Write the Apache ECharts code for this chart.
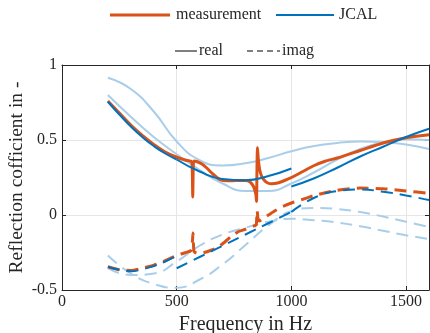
<!DOCTYPE html>
<html><head><meta charset="utf-8">
<script src="https://cdn.jsdelivr.net/npm/echarts@6/dist/echarts.min.js"></script>
<style>html,body{margin:0;padding:0;background:#fff}#c{width:430px;height:333px}</style>
</head><body><div id="c"></div>
<script>
// ---- data ----
const xTicks = [0, 500, 1000, 1500];
const yTicks = [-0.5, 0, 0.5, 1];

// measurement, real part
const measRealF = [200,250,300,350,400,450,500,540,565,568,570,572,575,590,610,630,660,690,720,760,800,820,835,845,848,850,852,856,862,870,880,895,915,940,970,1000,1050,1100,1150,1200,1300,1400,1500,1600];
const measRealV = [0.76,0.68,0.60,0.53,0.47,0.42,0.385,0.365,0.355,0.30,0.12,0.30,0.36,0.355,0.34,0.315,0.27,0.235,0.228,0.23,0.23,0.22,0.19,0.14,0.09,0.30,0.45,0.37,0.30,0.26,0.235,0.215,0.208,0.213,0.23,0.25,0.29,0.33,0.36,0.38,0.43,0.48,0.515,0.535];
// measurement, imaginary part
const measImagF = [200,250,300,350,400,450,500,540,560,566,569,571,573,576,590,620,650,680,710,740,770,800,830,843,847,849,851,854,860,870,885,900,930,960,1000,1050,1100,1200,1300,1400,1500,1600];
const measImagV = [-0.345,-0.365,-0.37,-0.355,-0.335,-0.305,-0.27,-0.25,-0.24,-0.22,-0.17,-0.12,-0.19,-0.245,-0.255,-0.25,-0.235,-0.215,-0.18,-0.14,-0.11,-0.095,-0.075,-0.07,-0.065,-0.02,0.03,-0.02,-0.04,-0.03,-0.015,0.0,0.03,0.055,0.08,0.105,0.13,0.165,0.18,0.175,0.16,0.145];

// JCAL fits (dark), piecewise frequency ranges
const jcalAF = [200,250,300,350,400,450,500];
const jcalARealV = [0.755,0.67,0.59,0.52,0.46,0.41,0.37];
const jcalAImagV = [-0.345,-0.365,-0.375,-0.362,-0.34,-0.31,-0.27];
const jcalBF = [500,600,700,800,900,1000];
const jcalBRealV = [0.37,0.29,0.24,0.232,0.26,0.31];
const jcalBImagV = [-0.355,-0.28,-0.205,-0.13,-0.055,0.02];
const jcalCF = [1000,1100,1200,1300,1400,1500,1600];
const jcalCRealV = [0.19,0.245,0.315,0.39,0.455,0.52,0.575];
const jcalCImagV = [0.02,0.115,0.16,0.17,0.155,0.13,0.10];

// JCAL variants over the full range (light)
const fullF = [200,300,400,500,600,700,800,900,1000,1100,1200,1300,1400,1500,1600];
const light1RealV = [0.915,0.84,0.69,0.49,0.365,0.33,0.345,0.38,0.425,0.46,0.48,0.49,0.485,0.47,0.44];
const light2RealV = [0.80,0.655,0.52,0.405,0.30,0.21,0.16,0.16,0.21,0.285,0.37,0.44,0.485,0.505,0.50];
const light1ImagV = [-0.27,-0.39,-0.46,-0.485,-0.43,-0.33,-0.20,-0.07,0.025,0.047,0.04,0.02,-0.01,-0.045,-0.08];
const light2ImagV = [-0.355,-0.40,-0.39,-0.31,-0.205,-0.13,-0.085,-0.045,-0.025,-0.035,-0.05,-0.075,-0.105,-0.135,-0.16];

// legend entries
const legendRow1 = ['measurement', 'JCAL'];
const legendRow2 = ['real', 'imag'];

// ---- chart ----
const pairs = (f, v) => f.map((x, i) => [x, v[i]]);
const ORANGE = '#D95319', BLUE = '#0072BD', LIGHT = '#A9CEEA', TXT = '#262626';
const FONT = 'Liberation Serif';
const DASH = [12, 7];

function line(name, f, v, color, width, dashed, z, smooth) {
  return {
    name, type: 'line', data: pairs(f, v), showSymbol: false, symbol: 'none',
    smooth: smooth, z: z, silent: true,
    lineStyle: { color, width, type: dashed ? DASH : 'solid', cap: 'butt' },
    itemStyle: { color }
  };
}

const series = [
  line('l1r', fullF, light1RealV, LIGHT, 2, false, 1, 0.5),
  line('l2r', fullF, light2RealV, LIGHT, 2, false, 1, 0.5),
  line('l1i', fullF, light1ImagV, LIGHT, 2, true, 1, 0.5),
  line('l2i', fullF, light2ImagV, LIGHT, 2, true, 1, 0.5),
  line('measurement', measRealF, measRealV, ORANGE, 3, false, 2, 0.2),
  line('measImag', measImagF, measImagV, ORANGE, 3, true, 2, 0.2),
  line('JCAL', jcalAF, jcalARealV, BLUE, 2, false, 3, 0.5),
  line('jb', jcalBF, jcalBRealV, BLUE, 2, false, 3, 0.5),
  line('jc', jcalCF, jcalCRealV, BLUE, 2, false, 3, 0.5),
  line('jai', jcalAF, jcalAImagV, BLUE, 2, true, 3, 0.5),
  line('jbi', jcalBF, jcalBImagV, BLUE, 2, true, 3, 0.5),
  line('jci', jcalCF, jcalCImagV, BLUE, 2, true, 3, 0.5)
];

// legend drawn as graphic (two rows, MATLAB style)
const LEG_FS = 16;
function legLine(x1, x2, y, color, width, dash) {
  return { type: 'line', shape: { x1, y1: y, x2, y2: y },
    style: { stroke: color, lineWidth: width, lineDash: dash || null }, silent: true };
}
function legText(x, y, t) {
  return { type: 'text', x, y, silent: true,
    style: { text: t, fontFamily: FONT, fontSize: LEG_FS, fill: TXT, textVerticalAlign: 'middle', verticalAlign: 'middle' } };
}
const graphic = [
  legLine(110, 170, 15, ORANGE, 3), legText(176, 15, legendRow1[0]),
  legLine(276, 334, 15, BLUE, 2), legText(339, 15, legendRow1[1]),
  legLine(175, 197, 51, '#000', 1), legText(199, 51, legendRow2[0]),
  legLine(247, 280, 51, '#000', 1, [6, 4]), legText(282, 51, legendRow2[1])
];

const gridLine = { show: true, lineStyle: { color: '#E6E6E6', width: 1 } };
const axisBase = {
  axisLine: { show: true, onZero: false, lineStyle: { color: TXT, width: 1 } },
  axisTick: { show: true, inside: true, length: 4, lineStyle: { color: TXT } }
};

const option = {
  animation: false,
  backgroundColor: '#fff',
  grid: { left: 62, right: 1, top: 65, bottom: 43, containLabel: false, outerBoundsMode: 'none' },
  graphic: graphic,
  xAxis: [
    Object.assign({}, axisBase, {
      type: 'value', min: xTicks[0], max: 1600, interval: xTicks[1] - xTicks[0],
      name: 'Frequency in Hz', nameLocation: 'middle', nameGap: 22,
      nameTextStyle: { fontFamily: FONT, fontSize: 20, color: TXT },
      axisLabel: { fontFamily: FONT, fontSize: 16, color: TXT, margin: 4, showMaxLabel: false,
        formatter: v => xTicks.includes(v) ? String(v) : '' },
      splitLine: gridLine
    }),
    Object.assign({}, axisBase, {
      type: 'value', position: 'top', min: xTicks[0], max: 1600, interval: xTicks[1] - xTicks[0],
      axisLabel: { show: false }, splitLine: { show: false }
    })
  ],
  yAxis: [
    Object.assign({}, axisBase, {
      type: 'value', min: yTicks[0], max: yTicks[yTicks.length - 1], interval: 0.5,
      name: 'Reflection cofficient in -', nameLocation: 'middle', nameGap: 35, nameRotate: 90,
      nameMoveOverlap: false,
      nameTextStyle: { fontFamily: FONT, fontSize: 19.5, color: TXT },
      axisLabel: { fontFamily: FONT, fontSize: 16, color: TXT, margin: 5,
        formatter: v => String(v) },
      splitLine: gridLine
    }),
    Object.assign({}, axisBase, {
      type: 'value', position: 'right', min: yTicks[0], max: yTicks[yTicks.length - 1], interval: 0.5,
      axisLabel: { show: false }, splitLine: { show: false }
    })
  ],
  series: series
};

const chart = echarts.init(document.getElementById('c'), null, { renderer: 'canvas' });
chart.setOption(option);
</script></body></html>
